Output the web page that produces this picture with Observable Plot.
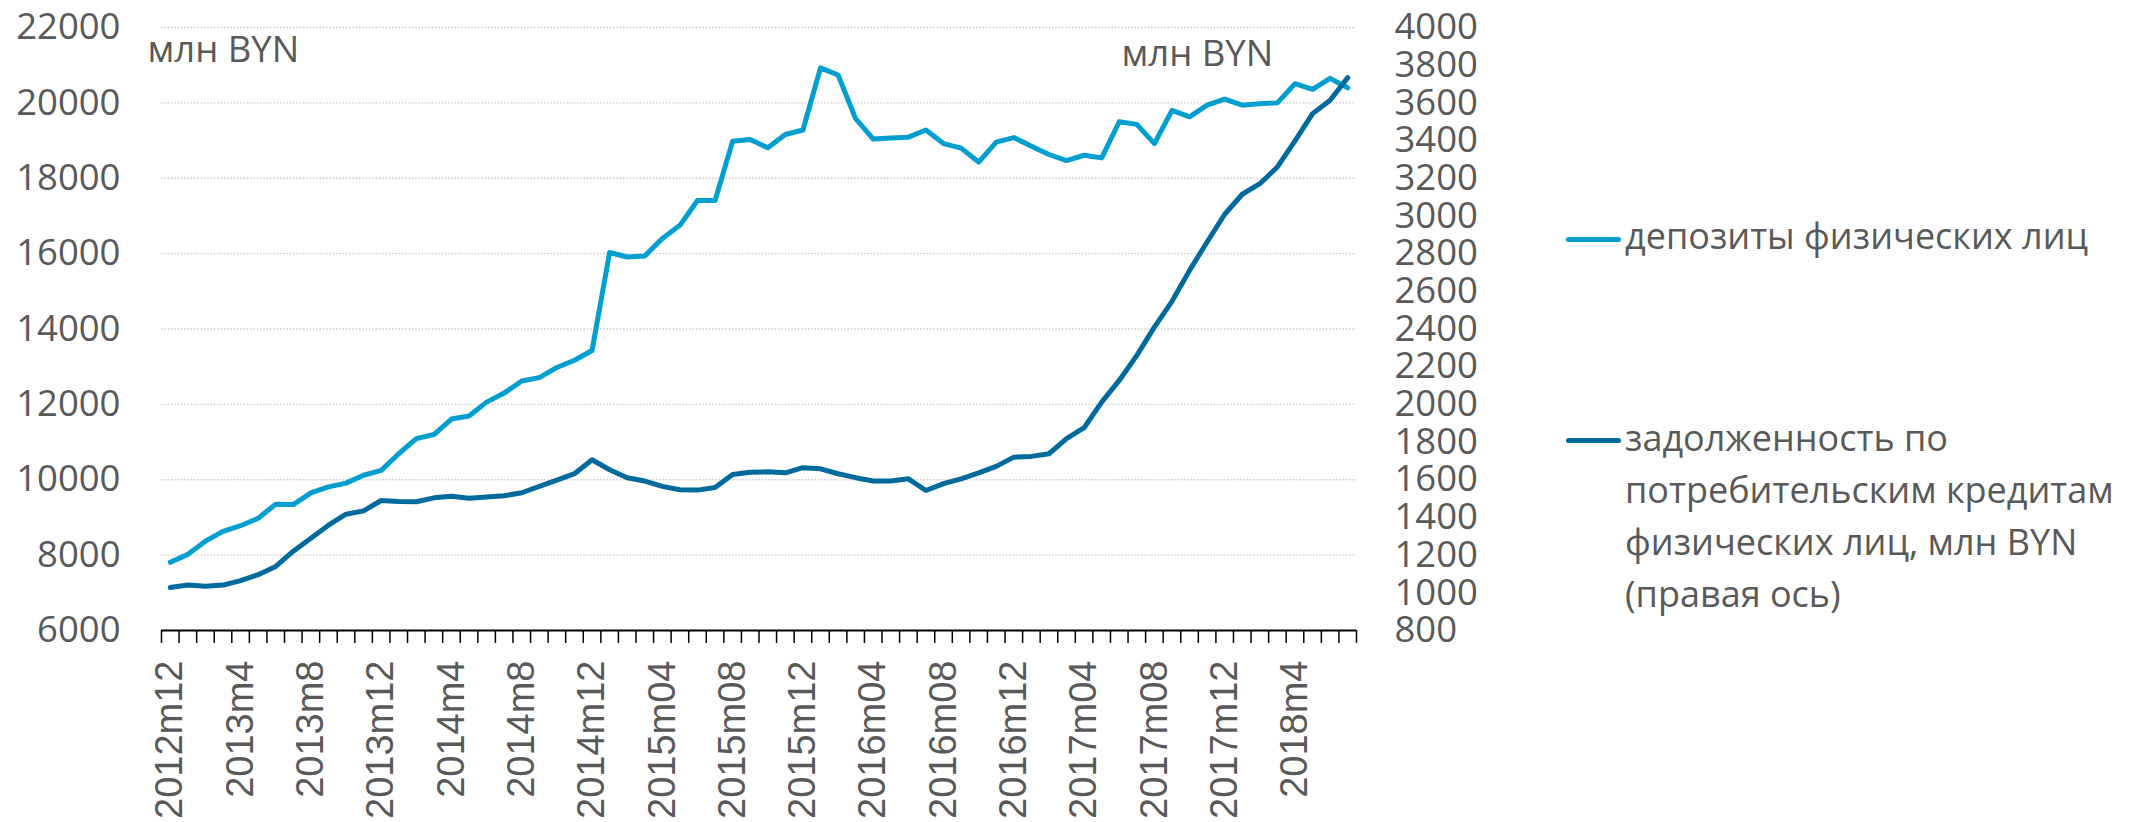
<!DOCTYPE html>
<html>
<head>
<meta charset="utf-8">
<script src="https://cdn.jsdelivr.net/npm/d3@7"></script>
<script src="https://cdn.jsdelivr.net/npm/@observablehq/plot@0.6"></script>
<style>
  body { margin: 0; background: #fff; }
  #wrap { position: relative; width: 2134px; height: 822px; overflow: hidden; font-family: "Open Sans", sans-serif; color: #595959; background: #fff; }
  #chart { position: absolute; left: 0; top: 0; }
  .leg { position: absolute; left: 1625px; font-size: 36px; line-height: 52px; white-space: nowrap; color: #595959; }
  .sw { position: absolute; left: 1566px; width: 55px; height: 5px; border-radius: 3px; }
</style>
</head>
<body>
<div id="wrap"><div id="chart"></div></div>
<script>
// ---- data ----
const months = [
  "2012m12",
  "2013m1","2013m2","2013m3","2013m4","2013m5","2013m6","2013m7","2013m8","2013m9","2013m10","2013m11","2013m12",
  "2014m1","2014m2","2014m3","2014m4","2014m5","2014m6","2014m7","2014m8","2014m9","2014m10","2014m11","2014m12",
  "2015m01","2015m02","2015m03","2015m04","2015m05","2015m06","2015m07","2015m08","2015m09","2015m10","2015m11","2015m12",
  "2016m01","2016m02","2016m03","2016m04","2016m05","2016m06","2016m07","2016m08","2016m09","2016m10","2016m11","2016m12",
  "2017m01","2017m02","2017m03","2017m04","2017m05","2017m06","2017m07","2017m08","2017m09","2017m10","2017m11","2017m12",
  "2018m1","2018m2","2018m3","2018m4","2018m5","2018m6","2018m7"
];
// deposits of individuals, mln BYN (left axis)
const deposits = [
  7810, 8020, 8370, 8630, 8780, 8980, 9350, 9340, 9650, 9810, 9910, 10120, 10250,
  10690, 11090, 11200, 11610, 11690, 12060, 12300, 12620, 12710, 12980, 13170, 13430,
  16030, 15910, 15940, 16400, 16750, 17410, 17410, 18980, 19030, 18810, 19160, 19280,
  20930, 20740, 19580, 19040, 19070, 19090, 19280, 18920, 18800, 18430, 18960, 19080,
  18850, 18630, 18470, 18610, 18540, 19500, 19430, 18920, 19800, 19630, 19940, 20100,
  19940, 19980, 20000, 20510, 20360, 20650, 20400
];
// consumer loans of individuals, mln BYN (right axis)
const loans = [
  1028, 1041, 1035, 1041, 1065, 1096, 1140, 1221, 1290, 1359, 1417, 1435, 1490,
  1485, 1483, 1504, 1513, 1502, 1508, 1515, 1531, 1565, 1598, 1632, 1706,
  1653, 1611, 1593, 1565, 1547, 1545, 1559, 1628, 1640, 1642, 1637, 1664,
  1658, 1632, 1611, 1593, 1593, 1605, 1543, 1579, 1605, 1637, 1671, 1720,
  1724, 1738, 1818, 1876, 2012, 2127, 2260, 2410, 2547, 2711, 2862, 3009,
  3115, 3171, 3260, 3398, 3543, 3614, 3734
];
const leftTicks = [6000, 8000, 10000, 12000, 14000, 16000, 18000, 20000, 22000];
const rightTicks = [800, 1000, 1200, 1400, 1600, 1800, 2000, 2200, 2400, 2600, 2800, 3000, 3200, 3400, 3600, 3800, 4000];
const unitLabel = "млн BYN";
const seriesNames = ["депозиты физических лиц", "задолженность по потребительским кредитам физических лиц, млн BYN (правая ось)"];
const seriesLines = [["депозиты физических лиц"], ["задолженность по", "потребительским кредитам", "физических лиц, млн BYN", "(правая ось)"]];
const colors = ["#009fd0", "#006a9c"];

// ---- mapping of right axis onto left scale ----
const L0 = leftTicks[0], L1 = leftTicks[leftTicks.length - 1];
const R0 = rightTicks[0], R1 = rightTicks[rightTicks.length - 1];
const k = (L1 - L0) / (R1 - R0);
const toLeft = r => L0 + (r - R0) * k;
const fromLeft = l => Math.round(R0 + (l - L0) / k);

const data = months.map((m, i) => ({i, m, dep: deposits[i], loan: toLeft(loans[i])}));
const boundaries = d3.range(months.length + 1).map(j => j - 0.5);
const labelIdx = months.map((_, i) => i).filter(i => i % 4 === 0);

const gray = "#595959";
const chart = Plot.plot({
  width: 1560,
  height: 822,
  marginLeft: 161,
  marginRight: 204,
  marginTop: 27,
  marginBottom: 192,
  x: {type: "linear", domain: [-0.5, months.length - 0.5]},
  y: {domain: [L0, L1]},
  style: {fontFamily: "'Open Sans', sans-serif", color: gray, background: "white", overflow: "visible"},
  marks: [
    Plot.ruleY(leftTicks.slice(1), {stroke: "#cccccc", strokeWidth: 1.3, strokeDasharray: "1.6,1.7"}),
    Plot.axisY({ticks: leftTicks, tickSize: 0, tickPadding: 41, fontSize: 36.5, fill: gray, label: null, tickFormat: d => String(d)}),
    Plot.axisY({ticks: rightTicks.map(toLeft), anchor: "right", tickSize: 0, tickPadding: 38, fontSize: 36.5, fill: gray, label: null, tickFormat: d => String(fromLeft(d))}),
    Plot.axisX({ticks: boundaries, tickSize: 13, tickFormat: () => "", stroke: "black", strokeWidth: 1.5, label: null}),
    Plot.axisX({ticks: labelIdx, tickSize: 0, tickPadding: 30, tickRotate: -90, tickFormat: i => months[i], fontSize: 38, fontFamily: "'Liberation Sans', Arial, sans-serif", fill: gray, label: null}),
    Plot.ruleY([L0], {stroke: "black", strokeWidth: 2}),
    Plot.line(data, {x: "i", y: "dep", stroke: colors[0], strokeWidth: 5, strokeLinejoin: "round", strokeLinecap: "round"}),
    Plot.line(data, {x: "i", y: "loan", stroke: colors[1], strokeWidth: 5, strokeLinejoin: "round", strokeLinecap: "round"}),
    Plot.text([unitLabel], {text: d => d, frameAnchor: "top-left", dx: -14, dy: 34, lineAnchor: "bottom", textAnchor: "start", fontSize: 36.5, fill: gray}),
    Plot.text([unitLabel], {text: d => d, frameAnchor: "top-left", dx: 960, dy: 38, lineAnchor: "bottom", textAnchor: "start", fontSize: 36.5, fill: gray})
  ]
});
document.getElementById("chart").appendChild(chart);

// ---- legend (HTML, right of the plot) ----
const wrap = document.getElementById("wrap");
const legTops = [210, 412];
const swTops = [237, 438];
seriesLines.forEach((lines, s) => {
  const sw = document.createElement("div");
  sw.className = "sw";
  sw.style.top = swTops[s] + "px";
  sw.style.background = colors[s];
  sw.title = seriesNames[s];
  wrap.appendChild(sw);
  const t = document.createElement("div");
  t.className = "leg";
  t.style.top = legTops[s] + "px";
  t.innerHTML = lines.join("<br>");
  wrap.appendChild(t);
});
</script>
</body>
</html>
